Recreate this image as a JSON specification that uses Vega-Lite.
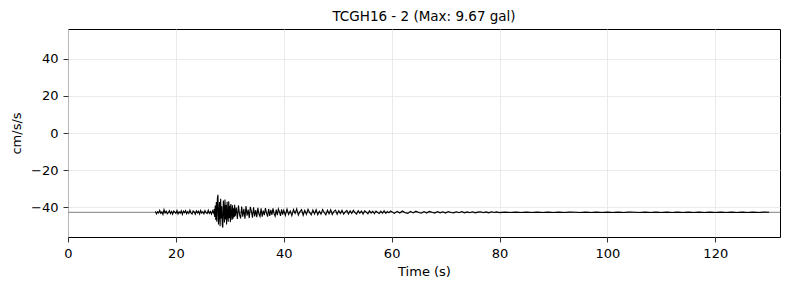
{
  "$schema": "https://vega.github.io/schema/vega-lite/v6.json",
  "width": 712,
  "height": 208,
  "autosize": {"type": "none"},
  "padding": {"left": 68, "top": 29, "right": 10, "bottom": 53},
  "background": "white",
  "title": {"text": "TCGH16 - 2 (Max: 9.67 gal)", "font": "DejaVu Sans", "fontSize": 13.5, "fontWeight": "normal", "color": "black", "offset": 6},
  "config": {
    "view": {"stroke": "black", "strokeWidth": 1},
    "axis": {
      "domain": false,
      "grid": true,
      "gridColor": "#e6e6e6",
      "gridWidth": 0.8,
      "tickColor": "black",
      "tickSize": 5,
      "tickWidth": 0.8,
      "labelPadding": 5,
      "labelFlush": false,
      "labelFont": "DejaVu Sans",
      "labelFontSize": 13,
      "labelColor": "black",
      "titleFont": "DejaVu Sans",
      "titleFontSize": 13,
      "titleFontWeight": "normal",
      "titleColor": "black"
    }
  },
  "datasets": {
    "wave": [
      {"t":16.2,"a":-42.2},{"t":16.4,"a":-43.6},{"t":16.6,"a":-42.4},{"t":16.8,"a":-43.1},{"t":17.0,"a":-41.6},{"t":17.2,"a":-43.3},{"t":17.4,"a":-42.5},{"t":17.6,"a":-43.9},{"t":17.8,"a":-41.2},{"t":18.0,"a":-43.0},
      {"t":18.2,"a":-42.1},{"t":18.4,"a":-43.5},{"t":18.6,"a":-42.9},{"t":18.8,"a":-41.8},{"t":19.0,"a":-43.4},{"t":19.2,"a":-42.3},{"t":19.4,"a":-43.7},{"t":19.6,"a":-42.0},{"t":19.8,"a":-42.6},{"t":20.0,"a":-43.3},
      {"t":20.2,"a":-41.7},{"t":20.4,"a":-43.6},{"t":20.6,"a":-42.4},{"t":20.8,"a":-43.2},{"t":21.0,"a":-41.9},{"t":21.2,"a":-43.8},{"t":21.4,"a":-42.1},{"t":21.6,"a":-42.9},{"t":21.8,"a":-41.8},{"t":22.0,"a":-43.5},
      {"t":22.2,"a":-42.3},{"t":22.4,"a":-43.3},{"t":22.6,"a":-41.5},{"t":22.8,"a":-43.1},{"t":23.0,"a":-43.6},{"t":23.2,"a":-42.0},{"t":23.4,"a":-42.5},{"t":23.6,"a":-43.7},{"t":23.8,"a":-41.9},{"t":24.0,"a":-43.0},
      {"t":24.2,"a":-42.1},{"t":24.4,"a":-43.6},{"t":24.6,"a":-41.7},{"t":24.8,"a":-43.2},{"t":25.0,"a":-42.4},{"t":25.2,"a":-43.5},{"t":25.4,"a":-41.8},{"t":25.6,"a":-42.9},{"t":25.8,"a":-43.4},{"t":26.0,"a":-41.6},
      {"t":26.2,"a":-43.3},{"t":26.4,"a":-42.3},{"t":26.6,"a":-43.7},{"t":26.8,"a":-41.9},{"t":27.0,"a":-43.1},
      {"t":27.1,"a":-40.9},{"t":27.2,"a":-45.2},{"t":27.3,"a":-39.0},{"t":27.4,"a":-46.9},{"t":27.5,"a":-37.2},{"t":27.6,"a":-47.8},{"t":27.7,"a":-35.0},{"t":27.8,"a":-33.3},{"t":27.9,"a":-49.2},{"t":28.0,"a":-44.0},
      {"t":28.1,"a":-37.1},{"t":28.2,"a":-50.2},{"t":28.3,"a":-35.4},{"t":28.4,"a":-46.0},{"t":28.5,"a":-39.5},{"t":28.6,"a":-49.4},{"t":28.7,"a":-50.9},{"t":28.8,"a":-36.3},{"t":28.9,"a":-41.0},{"t":29.0,"a":-48.2},
      {"t":29.1,"a":-35.8},{"t":29.2,"a":-46.5},{"t":29.3,"a":-38.8},{"t":29.4,"a":-49.3},{"t":29.5,"a":-37.0},{"t":29.6,"a":-44.2},{"t":29.7,"a":-47.8},{"t":29.8,"a":-36.7},{"t":29.9,"a":-45.9},{"t":30.0,"a":-39.2},
      {"t":30.1,"a":-48.0},{"t":30.2,"a":-38.3},{"t":30.3,"a":-43.5},{"t":30.4,"a":-46.8},{"t":30.5,"a":-38.9},{"t":30.6,"a":-46.1},{"t":30.7,"a":-40.5},{"t":30.8,"a":-45.4},{"t":30.9,"a":-38.6},{"t":31.0,"a":-44.8},
      {"t":31.2,"a":-40.1},{"t":31.4,"a":-46.3},{"t":31.6,"a":-39.0},{"t":31.8,"a":-43.9},{"t":32.0,"a":-46.0},{"t":32.2,"a":-39.6},{"t":32.4,"a":-45.1},{"t":32.6,"a":-40.8},{"t":32.8,"a":-46.2},{"t":33.0,"a":-39.3},
      {"t":33.2,"a":-44.5},{"t":33.4,"a":-41.2},{"t":33.6,"a":-45.8},{"t":33.8,"a":-39.8},{"t":34.0,"a":-42.2},{"t":34.2,"a":-45.6},{"t":34.4,"a":-40.0},{"t":34.6,"a":-44.9},{"t":34.8,"a":-41.5},{"t":35.0,"a":-45.3},
      {"t":35.2,"a":-40.3},{"t":35.4,"a":-43.6},{"t":35.6,"a":-44.9},{"t":35.8,"a":-40.6},{"t":36.0,"a":-45.1},{"t":36.2,"a":-41.8},{"t":36.4,"a":-44.2},{"t":36.6,"a":-40.4},{"t":36.8,"a":-43.0},{"t":37.0,"a":-45.0},
      {"t":37.2,"a":-40.9},{"t":37.4,"a":-44.6},{"t":37.6,"a":-41.4},{"t":37.8,"a":-44.1},{"t":38.0,"a":-40.6},{"t":38.2,"a":-43.4},{"t":38.4,"a":-44.8},{"t":38.6,"a":-41.2},{"t":38.8,"a":-44.3},{"t":39.0,"a":-40.9},
      {"t":39.2,"a":-42.5},{"t":39.4,"a":-44.6},{"t":39.6,"a":-41.1},{"t":39.8,"a":-44.0},{"t":40.0,"a":-41.6},
      {"t":40.3,"a":-44.4},{"t":40.6,"a":-41.0},{"t":40.9,"a":-43.9},{"t":41.2,"a":-42.0},{"t":41.5,"a":-44.5},{"t":41.8,"a":-41.2},{"t":42.1,"a":-43.3},{"t":42.4,"a":-40.9},{"t":42.7,"a":-44.2},{"t":43.0,"a":-42.3},
      {"t":43.3,"a":-41.3},{"t":43.6,"a":-44.3},{"t":43.9,"a":-41.6},{"t":44.2,"a":-43.8},{"t":44.5,"a":-41.1},{"t":44.8,"a":-42.9},{"t":45.1,"a":-44.1},{"t":45.4,"a":-41.5},{"t":45.7,"a":-43.6},{"t":46.0,"a":-41.3},
      {"t":46.3,"a":-44.0},{"t":46.6,"a":-42.1},{"t":46.9,"a":-43.7},{"t":47.2,"a":-41.2},{"t":47.5,"a":-42.8},{"t":47.8,"a":-44.1},{"t":48.1,"a":-41.6},{"t":48.4,"a":-43.5},{"t":48.7,"a":-41.4},{"t":49.0,"a":-43.9},
      {"t":49.3,"a":-42.2},{"t":49.6,"a":-41.5},{"t":49.9,"a":-43.8},{"t":50.2,"a":-41.8},{"t":50.5,"a":-43.4},{"t":50.8,"a":-41.6},{"t":51.1,"a":-43.7},{"t":51.4,"a":-42.5},{"t":51.7,"a":-41.7},{"t":52.0,"a":-43.6},
      {"t":52.3,"a":-41.9},{"t":52.6,"a":-43.3},{"t":52.9,"a":-41.6},{"t":53.2,"a":-42.9},{"t":53.5,"a":-43.7},{"t":53.8,"a":-41.8},{"t":54.1,"a":-43.2},{"t":54.4,"a":-42.0},{"t":54.7,"a":-43.6},{"t":55.0,"a":-41.9},
      {"t":55.3,"a":-42.6},{"t":55.6,"a":-43.5},{"t":55.9,"a":-41.9},{"t":56.2,"a":-43.1},{"t":56.5,"a":-42.1},{"t":56.8,"a":-43.5},{"t":57.1,"a":-42.0},{"t":57.4,"a":-42.8},{"t":57.7,"a":-43.4},{"t":58.0,"a":-42.1},
      {"t":58.3,"a":-43.2},{"t":58.6,"a":-41.9},{"t":58.9,"a":-43.3},{"t":59.2,"a":-42.3},{"t":59.5,"a":-43.0},{"t":59.8,"a":-42.0},
      {"t":60.5,"a":-43.3},{"t":61.0,"a":-42.2},{"t":61.5,"a":-43.1},{"t":62.0,"a":-42.0},{"t":62.5,"a":-42.9},{"t":63.0,"a":-43.3},{"t":63.5,"a":-42.2},{"t":64.0,"a":-43.0},{"t":64.5,"a":-42.1},{"t":65.0,"a":-42.8},
      {"t":65.5,"a":-43.2},{"t":66.0,"a":-42.3},{"t":66.5,"a":-43.1},{"t":67.0,"a":-42.2},{"t":67.5,"a":-42.7},{"t":68.0,"a":-43.1},{"t":68.5,"a":-42.3},{"t":69.0,"a":-43.0},{"t":69.5,"a":-42.4},{"t":70.0,"a":-43.1},
      {"t":70.5,"a":-42.3},{"t":71.0,"a":-42.8},{"t":71.5,"a":-43.0},{"t":72.0,"a":-42.4},{"t":72.5,"a":-42.9},{"t":73.0,"a":-42.3},{"t":73.5,"a":-43.0},{"t":74.0,"a":-42.5},{"t":74.5,"a":-42.9},{"t":75.0,"a":-42.4},
      {"t":75.5,"a":-43.0},{"t":76.0,"a":-42.6},{"t":76.5,"a":-42.4},{"t":77.0,"a":-42.9},{"t":77.5,"a":-42.5},{"t":78.0,"a":-43.0},{"t":78.5,"a":-42.4},{"t":79.0,"a":-42.8},{"t":79.5,"a":-42.5},{"t":80.0,"a":-42.9},
      {"t":81,"a":-42.6},{"t":82,"a":-42.8},{"t":83,"a":-42.6},{"t":84,"a":-42.8},{"t":85,"a":-42.6},{"t":86,"a":-42.8},{"t":87,"a":-42.6},{"t":88,"a":-42.8},{"t":89,"a":-42.6},{"t":90,"a":-42.8},
      {"t":91,"a":-42.6},{"t":92,"a":-42.8},{"t":93,"a":-42.6},{"t":94,"a":-42.7},{"t":95,"a":-42.8},{"t":96,"a":-42.6},{"t":97,"a":-42.8},{"t":98,"a":-42.6},{"t":99,"a":-42.8},{"t":100,"a":-42.6},
      {"t":101,"a":-42.8},{"t":102,"a":-42.6},{"t":103,"a":-42.8},{"t":104,"a":-42.6},{"t":105,"a":-42.7},{"t":106,"a":-42.8},{"t":107,"a":-42.6},{"t":108,"a":-42.8},{"t":109,"a":-42.6},{"t":110,"a":-42.8},
      {"t":111,"a":-42.6},{"t":112,"a":-42.8},{"t":113,"a":-42.6},{"t":114,"a":-42.8},{"t":115,"a":-42.6},{"t":116,"a":-42.8},{"t":117,"a":-42.6},{"t":118,"a":-42.8},{"t":119,"a":-42.6},{"t":120,"a":-42.8},
      {"t":121,"a":-42.6},{"t":122,"a":-42.8},{"t":123,"a":-42.6},{"t":124,"a":-42.8},{"t":125,"a":-42.6},{"t":126,"a":-42.8},{"t":127,"a":-42.6},{"t":128,"a":-42.8},{"t":129,"a":-42.6},{"t":130,"a":-42.7}
    ],
    "base": [{"y": -42.7}]
  },
  "layer": [
    {
      "data": {"name": "base"},
      "mark": {"type": "rule", "color": "#808080", "strokeWidth": 1},
      "encoding": {
        "y": {"field": "y", "type": "quantitative", "scale": {"domain": [-56, 56]}}
      }
    },
    {
      "data": {"name": "wave"},
      "mark": {"type": "line", "color": "black", "strokeWidth": 1.1, "clip": true},
      "encoding": {
        "x": {"field": "t", "type": "quantitative", "title": "Time (s)", "scale": {"domain": [0, 132], "nice": false, "zero": false}, "axis": {"values": [0, 20, 40, 60, 80, 100, 120], "titlePadding": 5}},
        "y": {"field": "a", "type": "quantitative", "title": "cm/s/s", "scale": {"domain": [-56, 56], "nice": false, "zero": false}, "axis": {"values": [-40, -20, 0, 20, 40], "titlePadding": 7}}
      }
    }
  ]
}
